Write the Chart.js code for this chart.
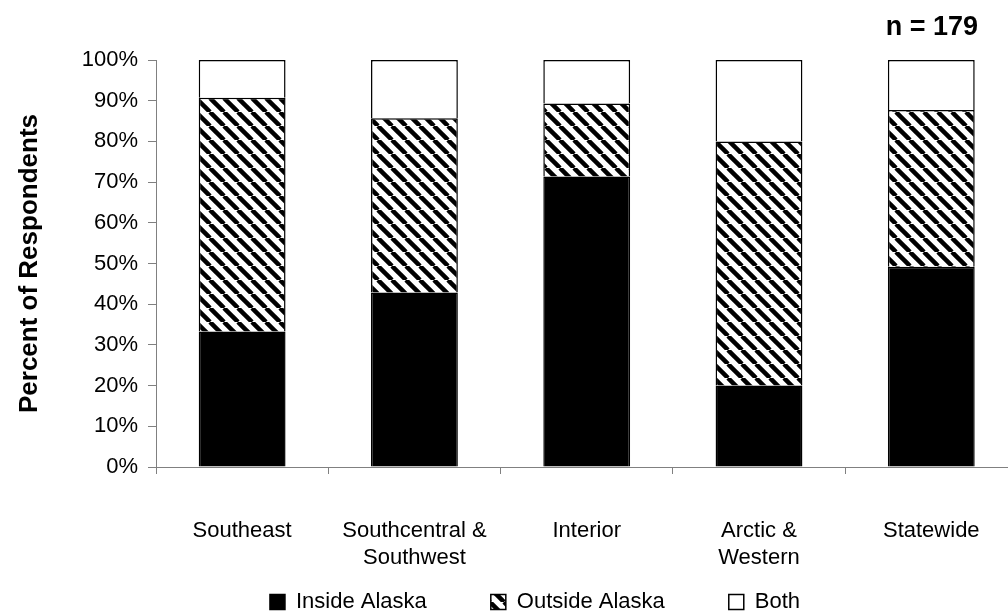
<!DOCTYPE html>
<html>
<head>
<meta charset="utf-8">
<script src="https://cdn.jsdelivr.net/npm/chart.js@4.4.1/dist/chart.umd.min.js"></script>
<style>
html,body{margin:0;padding:0;background:#fff;overflow:hidden;}
#wrap{position:absolute;left:0;top:0;width:1024px;height:625px;}
</style>
</head>
<body>
<div id="wrap"><canvas id="c" width="1024" height="625"></canvas></div>
<script>
const categories = ['Southeast', ['Southcentral &', 'Southwest'], 'Interior', ['Arctic &', 'Western'], 'Statewide'];
const insideAlaska = [33.3, 42.9, 71.4, 20.0, 49.2];
const outsideAlaska = [57.4, 42.8, 17.9, 60.0, 38.5];
const both = [9.3, 14.3, 10.7, 20.0, 12.3];
const yTickValues = [0, 10, 20, 30, 40, 50, 60, 70, 80, 90, 100];
const sampleNote = 'n = 179';

function hatch() {
  const s = 14;
  const p = document.createElement('canvas');
  p.width = s; p.height = s;
  const g = p.getContext('2d');
  g.fillStyle = '#fff';
  g.fillRect(0, 0, s, s);
  g.strokeStyle = '#000';
  g.lineWidth = 4.5;
  for (const x0 of [-s, 0, s]) {
    g.beginPath();
    g.moveTo(x0, 0);
    g.lineTo(x0 + s, s);
    g.stroke();
  }
  return document.getElementById('c').getContext('2d').createPattern(p, 'repeat');
}

const FONT = "'Liberation Sans', Arial, sans-serif";

const notePlugin = {
  id: 'note',
  afterLayout(chart) {
    if (chart.legend) { chart.legend.left += 50; }
  },
  afterDraw(chart) {
    const ctx = chart.ctx;
    ctx.save();
    ctx.font = 'bold 27px ' + FONT;
    ctx.fillStyle = '#000';
    ctx.textAlign = 'right';
    ctx.textBaseline = 'middle';
    ctx.fillText(sampleNote, 978, 28);
    ctx.restore();
  }
};

new Chart(document.getElementById('c'), {
  type: 'bar',
  data: {
    labels: categories,
    datasets: [
      { label: 'Inside Alaska', data: insideAlaska, backgroundColor: '#000', borderColor: '#000', borderWidth: 1.5 },
      { label: 'Outside Alaska', data: outsideAlaska, backgroundColor: hatch(), borderColor: '#000', borderWidth: 1.5 },
      { label: 'Both', data: both, backgroundColor: '#fff', borderColor: '#000', borderWidth: 1.5 }
    ]
  },
  options: {
    responsive: false,
    animation: false,
    layout: { padding: { top: 60, right: 4, left: 0, bottom: 2 } },
    datasets: { bar: { barPercentage: 0.504, categoryPercentage: 1.0 } },
    plugins: {
      tooltip: { enabled: false },
      legend: {
        position: 'bottom',
        labels: {
          color: '#000',
          font: { family: FONT, size: 22 },
          boxWidth: 15,
          boxHeight: 15,
          padding: 64
        }
      }
    },
    scales: {
      x: {
        stacked: true,
        offset: true,
        afterFit(scale) {
          scale.height = 60;
          scale._computeLabelArea = function () { return undefined; };
        },
        grid: { display: true, offset: true, drawOnChartArea: false, drawTicks: true, tickLength: 7, color: '#808080', lineWidth: 1 },
        border: { display: true, color: '#808080', width: 1 },
        ticks: { color: '#000', font: { family: FONT, size: 22 }, padding: 44, maxRotation: 0, autoSkip: false }
      },
      y: {
        stacked: true,
        min: 0,
        max: 100,
        afterBuildTicks(scale) { scale.ticks = yTickValues.map(v => ({ value: v })); },
        afterFit(scale) { scale.width = 156; },
        grid: { display: true, drawOnChartArea: false, drawTicks: true, tickLength: 8, color: '#808080', lineWidth: 1 },
        border: { display: true, color: '#808080', width: 1 },
        ticks: { color: '#000', font: { family: FONT, size: 22 }, padding: 10, callback: v => v + '%' },
        title: { display: true, text: 'Percent of Respondents', color: '#000', font: { family: FONT, size: 26, weight: 'bold' }, padding: { top: 14, bottom: 0 } }
      }
    }
  },
  plugins: [notePlugin]
});
</script>
</body>
</html>
